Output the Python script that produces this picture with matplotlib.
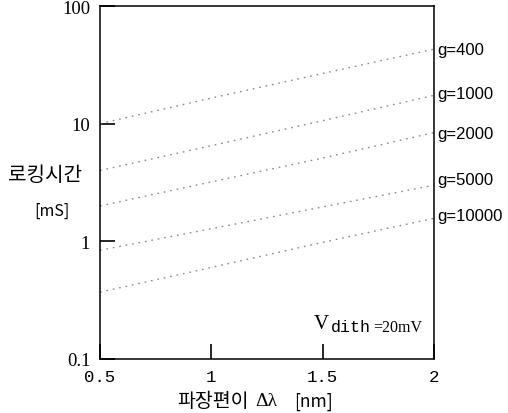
import matplotlib
matplotlib.use("Agg")
import matplotlib.pyplot as plt

# Data
x_vals = [0.5, 1.0, 1.5, 2.0]
series_names = ["g=400", "g=1000", "g=2000", "g=5000", "g=10000"]
g400 = [10.0, 16.5, 26.7, 43.0]
g1000 = [4.0, 6.5, 10.6, 17.4]
g2000 = [2.0, 3.2, 5.1, 8.4]
g5000 = [0.84, 1.28, 1.96, 3.0]
g10000 = [0.37, 0.60, 0.98, 1.57]
series = [g400, g1000, g2000, g5000, g10000]
y_ticks = [0.1, 1, 10, 100]
y_ticklabels = ["0.1", "1", "10", "100"]
x_ticks = [0.5, 1, 1.5, 2]
x_ticklabels = ["0.5", "1", "1.5", "2"]

W, H = 508, 414
fig = plt.figure(figsize=(W / 100, H / 100), dpi=100)
fig.patch.set_facecolor("white")

def fx(px):
    return px / W

def fy(py):
    return 1 - py / H

ax = fig.add_axes([fx(100), fy(360), (434 - 100) / W, (360 - 7) / H])
for s in series:
    ax.plot(x_vals, s, color="#8c8c8c", linestyle=(0, (1.2, 3.5)), linewidth=1.0)

ax.set_yscale("log")
ax.set_xlim(0.5, 2)
ax.set_ylim(0.1, 100)
ax.minorticks_off()
ax.set_yticks(y_ticks)
ax.set_yticklabels(y_ticklabels)
ax.set_xticks(x_ticks)
ax.set_xticklabels(x_ticklabels)
ax.tick_params(direction="in", length=10.5, width=1.2, color="black")
ax.tick_params(axis="y", pad=7, labelsize=13.5, labelfontfamily="Liberation Serif")
ax.tick_params(axis="x", pad=7, labelsize=12.5, labelfontfamily="Liberation Mono")
for sp in ax.spines.values():
    sp.set_linewidth(1.1)

# Right-side series labels
label_y = [50, 95, 134, 181, 217]
for name, py in zip(series_names, label_y):
    fig.text(fx(437), fy(py), name, fontfamily="Liberation Sans", fontsize=12,
             ha="left", va="center")

cjk = ["Noto Sans CJK KR", "DejaVu Sans"]
# Axis titles
fig.text(fx(45), fy(176), "로킹시간", fontfamily=cjk,
         fontsize=14.5, ha="center", va="center")
fig.text(fx(52), fy(211), "[mS]", fontfamily=cjk,
         fontsize=11.5, ha="center", va="center")
fig.text(fx(213), fy(402), "파장편이", fontfamily=cjk,
         fontsize=14, ha="center", va="center")
fig.text(fx(266), fy(402), "Δλ", fontfamily="Liberation Serif",
         fontsize=14, ha="center", va="center")
fig.text(fx(314), fy(402), "[nm]", fontfamily=cjk,
         fontsize=12.5, ha="center", va="center")

# Annotation V_dith = 20mV
fig.text(fx(314), fy(329), "V", fontfamily="Liberation Serif", fontsize=15,
         ha="left", va="baseline")
fig.text(fx(331), fy(332), "dith", fontfamily="Liberation Mono", fontsize=12,
         ha="left", va="baseline")
fig.text(fx(373), fy(332), "=20mV", fontfamily="Liberation Serif", fontsize=11.5,
         ha="left", va="baseline")

fig.savefig("out.png", dpi=100, facecolor="white")
